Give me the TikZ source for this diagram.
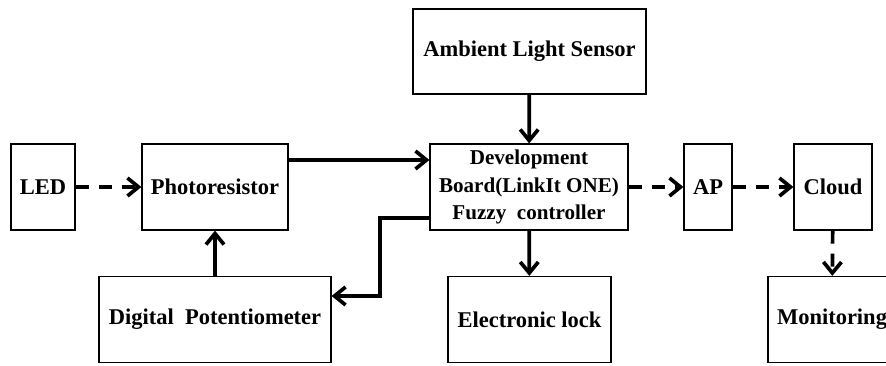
\documentclass[tikz,border=0pt]{standalone}
\usepackage{fontspec}
\setmainfont{Liberation Serif}
\usepackage{tikz}
\usetikzlibrary{arrows.meta,calc,positioning}
\tikzset{blk/.style={draw,line width=0.7pt,inner sep=0pt,align=center,minimum height=1.72cm,font=\bfseries\fontsize{12.8}{15.3}\selectfont},
	ln/.style={line width=2.1pt,-{Straight Barb[length=0.22cm,width=0.36cm]}},
	dln/.style={ln,dash pattern=on 0.26cm off 0.2cm}}

\begin{document}
\begin{tikzpicture}
		\useasboundingbox (0,0) rectangle (17.72,7.3);
		
		\node[blk,minimum width=4.66cm,minimum height=1.70cm] (als) at (10.59,6.27) {Ambient Light Sensor};
		
		\node[blk,minimum width=1.28cm] (led) at (0.86,3.56) {LED};
		\node[blk,minimum width=2.92cm] (photo) at (4.30,3.56) {Photoresistor};
		\node[blk,minimum width=3.96cm,font=\bfseries\fontsize{12}{15.6}\selectfont] (dev) at (10.58,3.56) {Development\\Board(LinkIt ONE)\\Fuzzy\ \ controller};
		\node[blk,minimum width=0.96cm] (ap) at (14.16,3.56) {AP};
		\node[blk,minimum width=1.56cm] (cloud) at (16.66,3.56) {Cloud};
		
		\node[blk,minimum width=4.64cm] (digi) at (4.30,0.91) {Digital\ \ Potentiometer};
		\node[blk,minimum width=3.26cm] (lock) at (10.59,0.91) {Electronic lock};
		\node[blk,minimum width=2.56cm] (mon) at (16.64,0.91) {Monitoring};
		
		\draw[dln] (led) -- (photo);
		\draw[ln] (photo.east |- 0,4.10) -- (dev.west |- 0,4.10);
		\draw[ln] (als) -- (dev);
		\draw[ln] (dev) -- (lock);
		\draw[ln] (digi) -- (photo);
		\draw[ln] (dev.west |- 0,2.94) -| (7.60,1.38) -- (digi.east |- 0,1.38);
		\draw[dln] (dev) -- (ap);
		\draw[dln] (ap) -- (cloud);
		\draw[dln] (cloud) -- (mon);
		
	\end{tikzpicture}
\end{document}
